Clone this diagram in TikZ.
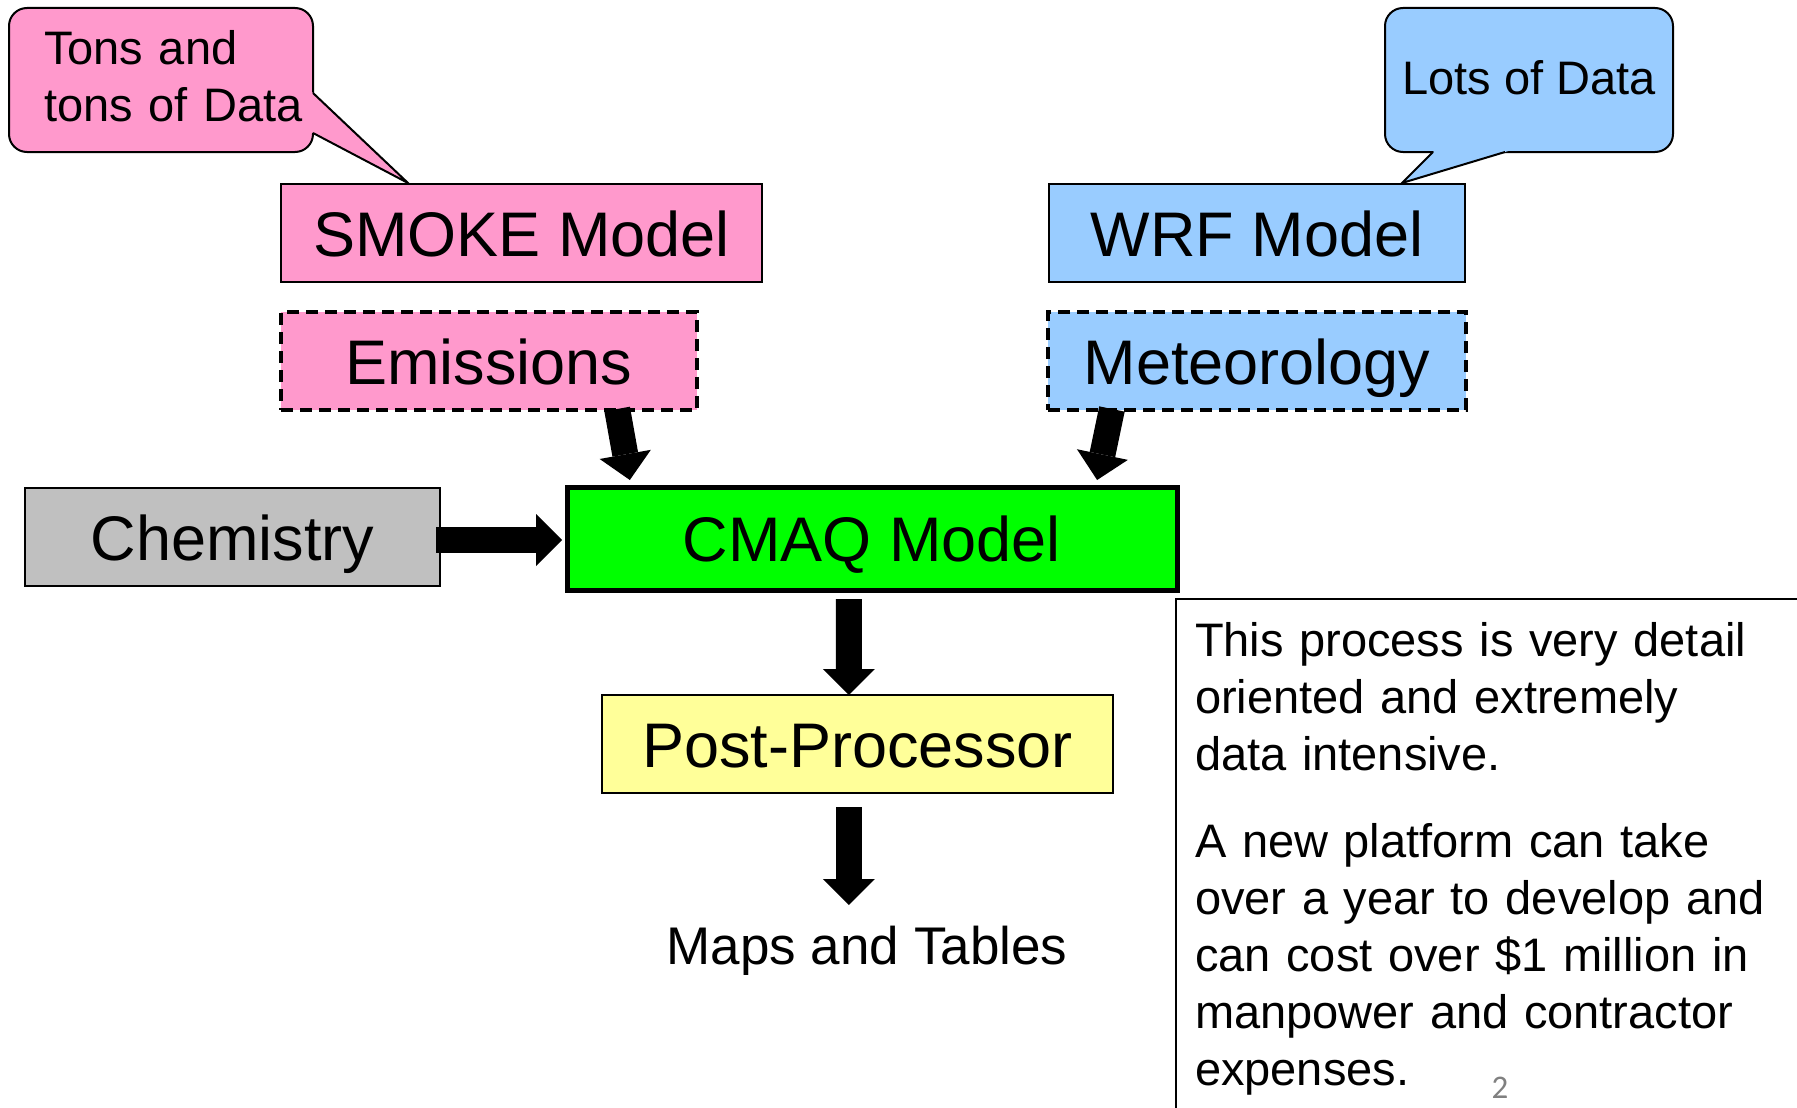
\documentclass[tikz,border=0pt]{standalone}
\usepackage{fontspec}
\setmainfont{Liberation Sans}
\newfontfamily\numfont{Carlito}
\usetikzlibrary{arrows.meta,calc}
\definecolor{pinkc}{HTML}{FF99CC}
\definecolor{bluec}{HTML}{99CCFF}
\definecolor{grayc}{HTML}{C0C0C0}
\definecolor{greenc}{HTML}{00FF00}
\definecolor{yellowc}{HTML}{FFFF99}
\tikzset{
  boxtext/.style={font=\fontsize{63pt}{75pt}\selectfont, text height=46pt, text depth=0pt,
    inner sep=0pt, outer sep=0pt, anchor=center},
  modelbox/.style={boxtext, draw=black, line width=2.5pt},
  dashbox/.style={boxtext, draw=black, line width=3.5pt, dash pattern=on 12pt off 7pt},
  callbox/.style={draw=black, line width=2pt, rounded corners=18pt, inner sep=0pt, outer sep=0pt},
  calltext/.style={font=\fontsize{47pt}{57pt}\selectfont, inner sep=0pt, outer sep=0pt},
  blockarrow/.style={line width=26pt, -{Triangle[length=26pt,width=52pt,line width=0pt]}},
  pointerline/.style={line width=2pt, line join=miter}
}
\begin{document}
\begin{tikzpicture}[x=1pt, y=-1pt]
\useasboundingbox (0,0) rectangle (1797,1108);
\fill[white] (0,0) rectangle (1797,1108);

% callouts
\node[callbox, fill=pinkc, minimum width=304pt, minimum height=144pt] (tons) at (161,80) {};
\node[calltext, anchor=base west, text width=280pt, align=left] (tonstext) at (44,65) {Tons and\\tons of Data};
\coordinate (tonstip) at (408,183);
\fill[pinkc] (310,90.2) -- (tonstip) -- (310,131.4) -- cycle;
\draw[pointerline] (313,93) -- (tonstip) -- (313,133);

\node[callbox, fill=bluec, minimum width=288pt, minimum height=144pt, calltext, text height=30pt, text depth=0pt] (lots) at (1529,80) {Lots of Data};
\coordinate (lotstip) at (1402,183);
\fill[bluec] (1436,149) -- (lotstip) -- (1515,149) -- cycle;
\draw[pointerline] (1433,152) -- (lotstip) -- (1505,152);

% boxes
\node[modelbox, fill=pinkc, minimum width=481pt, minimum height=98pt] (smoke) at (521.5,233) {SMOKE Model};
\node[dashbox, fill=pinkc, minimum width=416pt, minimum height=98pt] (em) at (489,361) {Emissions};
\node[modelbox, fill=bluec, minimum width=416pt, minimum height=98pt] (wrf) at (1257,233) {WRF Model};
\node[dashbox, fill=bluec, minimum width=418pt, minimum height=98pt] (met) at (1257,361) {Meteorology};
\node[modelbox, fill=grayc, line width=2pt, minimum width=415pt, minimum height=98pt] (chem) at (232.5,537) {Chemistry};
\node[modelbox, fill=greenc, line width=5pt, minimum width=610pt, minimum height=103pt] (cmaq) at (872,538.5) {CMAQ Model};
\node[modelbox, fill=yellowc, minimum width=511pt, minimum height=98pt] (post) at (857.5,744) {Post-Processor};
\node[font=\fontsize{53pt}{63pt}\selectfont, text height=38pt, text depth=11pt, inner sep=0pt, outer sep=0pt, anchor=base] (maps) at (867,964) {Maps and Tables};

% arrows
\draw[blockarrow] ($(em.south west)!0.808!(em.south east)+(0,-1)$) -- ($(cmaq.north west)!0.103!(cmaq.north east)+(0,-7)$);
\draw[blockarrow] ($(met.south west)!0.153!(met.south east)+(0,-1)$) -- ($(cmaq.north west)!0.869!(cmaq.north east)+(0,-7)$);
\draw[blockarrow] ($(chem.east)+(-4,3)$) -- ($(cmaq.west)+(-5,1.5)$);
\draw[blockarrow] ($(cmaq.south west)!0.462!(cmaq.south east)+(0,9)$) -- ($(post.north west)!0.483!(post.north east)$);
\coordinate (pm) at ($(post.south west)!0.483!(post.south east)$);
\draw[blockarrow] ($(pm)+(0,14)$) -- ($(pm |- maps.north)+(0,-21)$);

% note box
\draw[line width=2pt] (1797,599) -- (1176,599) -- (1176,1108);
\node[font=\fontsize{47pt}{57pt}\selectfont, text width=600pt, align=left, inner sep=0pt, outer sep=0pt, anchor=base west] (note) at (1195,656)
 {This process is very detail\\oriented and extremely\\data intensive.\\[30pt]A new platform can take\\over a year to develop and\\can cost over \$1 million in\\manpower and contractor\\expenses.};
\node[font=\numfont\fontsize{33pt}{38pt}\selectfont, text=black!50, inner sep=0pt] (pagenum) at (1500,1088) {2};
\end{tikzpicture}
\end{document}
